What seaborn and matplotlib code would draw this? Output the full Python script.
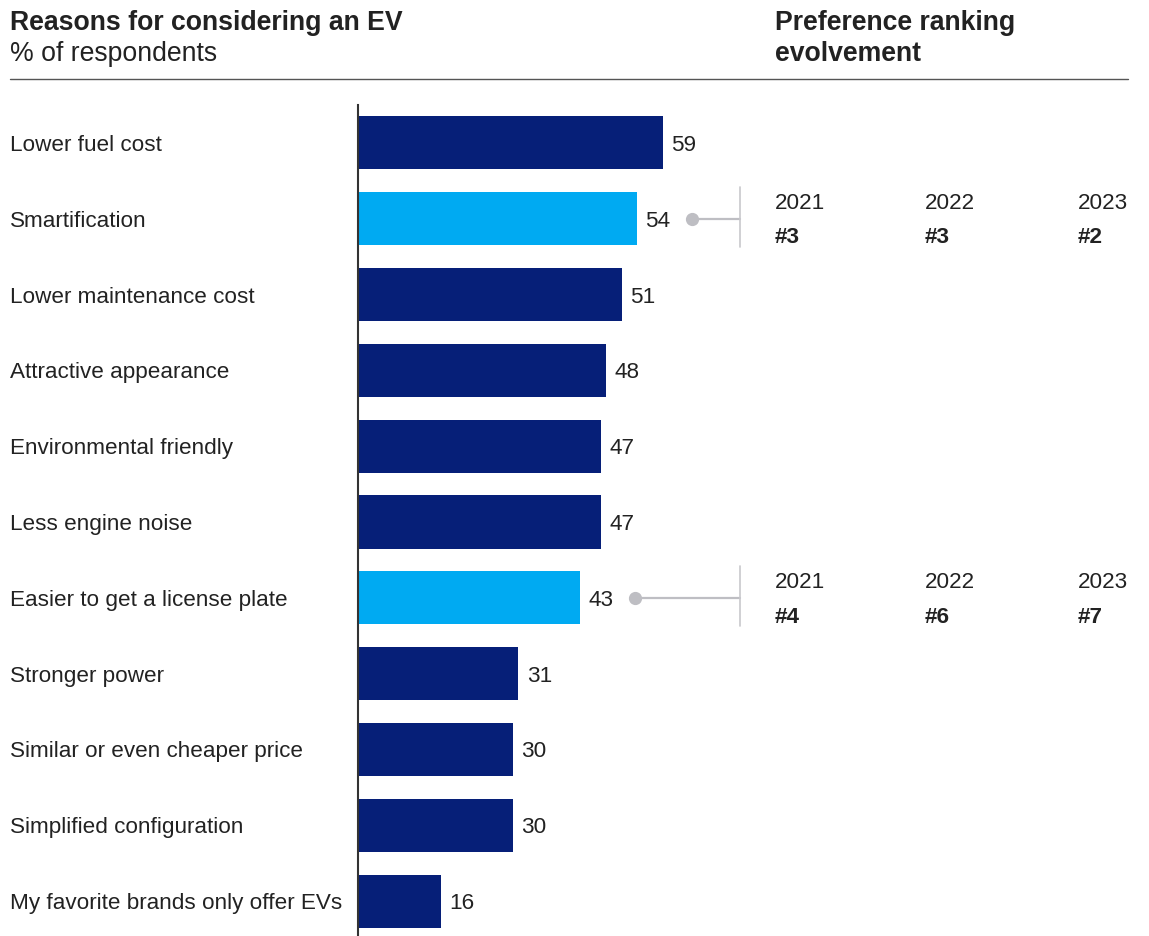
import matplotlib
matplotlib.use("Agg")
import matplotlib.pyplot as plt
import matplotlib.transforms as mtransforms
import seaborn as sns
import pandas as pd

# Survey data
reasons = [
    "Lower fuel cost",
    "Smartification",
    "Lower maintenance cost",
    "Attractive appearance",
    "Environmental friendly",
    "Less engine noise",
    "Easier to get a license plate",
    "Stronger power",
    "Similar or even cheaper price",
    "Simplified configuration",
    "My favorite brands only offer EVs",
]
share = [59, 54, 51, 48, 47, 47, 43, 31, 30, 30, 16]
highlighted = ["Smartification", "Easier to get a license plate"]

# Ranking history for the highlighted reasons
rank_years = ["2021", "2022", "2023"]
rank_history = {
    "Smartification": ["#3", "#3", "#2"],
    "Easier to get a license plate": ["#4", "#6", "#7"],
}

NAVY = "#061F78"
SKY = "#00AAF2"
TEXT = "#222222"
GREY = "#BEBEC3"

sns.set_theme(style="white")
plt.rcParams["font.family"] = ["Liberation Sans", "DejaVu Sans"]

W, H = 1149, 936
fig = plt.figure(figsize=(W / 100, H / 100), dpi=100)

# axes geometry in pixels
ax_left, ax_right, ax_top, ax_bottom = 358, 1128, 105, 936
ax = fig.add_axes([ax_left / W, 1 - ax_bottom / H,
                   (ax_right - ax_left) / W, (ax_bottom - ax_top) / H])

df = pd.DataFrame({
    "reason": reasons,
    "share": share,
    "group": ["hi" if r in highlighted else "base" for r in reasons],
})

sns.barplot(data=df, x="share", y="reason", hue="group",
            palette={"base": NAVY, "hi": SKY}, dodge=False,
            orient="h", width=0.70, legend=False, ax=ax, saturation=1,
            linewidth=0)

px_per_unit = 5.17
ax.set_xlim(0, (ax_right - ax_left) / px_per_unit)
ax.set_ylim(len(reasons) - 1 + 0.46, -0.5)

for c in ax.containers:
    anns = ax.bar_label(c, labels=[f"{v:g}" for v in c.datavalues],
                        padding=6, fontsize=16.2, color=TEXT)
    for a in anns:
        a.set_va("center_baseline")

ax.set_xlabel("")
ax.set_ylabel("")
ax.set_xticks([])
ax.set_yticks([])
for s in ["top", "right", "bottom"]:
    ax.spines[s].set_visible(False)
ax.spines["left"].set_color("#333333")
ax.spines["left"].set_linewidth(1.5)

# category labels, left aligned at figure edge
lab_tr = mtransforms.blended_transform_factory(fig.transFigure, ax.transData)
for i, r in enumerate(reasons):
    ax.text(10 / W, i, r, transform=lab_tr, ha="left", va="center_baseline",
            fontsize=16.2, color=TEXT, clip_on=False)

# ranking callouts
def px_to_data_x(px):
    return (px - ax_left) / px_per_unit

bracket_x = px_to_data_x(740)
year_x = [px_to_data_x(p) for p in (775, 925, 1078)]
for name, ranks in rank_history.items():
    i = reasons.index(name)
    v = share[i]
    dot_x = v + 55 / px_per_unit
    ax.plot([dot_x, bracket_x], [i, i], color=GREY, lw=1.6, zorder=2,
            clip_on=False)
    ax.plot([dot_x], [i], "o", color=GREY, ms=8.5, zorder=3, clip_on=False)
    ax.plot([bracket_x, bracket_x], [i - 0.42, i + 0.37], color="#C8C8CC",
            lw=1.2, clip_on=False)
    for yx, yr, rk in zip(year_x, rank_years, ranks):
        ax.text(yx, i - 0.24, yr, ha="left", va="center_baseline",
                fontsize=16.2, color=TEXT)
        ax.text(yx, i + 0.22, rk, ha="left", va="center_baseline",
                fontsize=16.2, fontweight="bold", color=TEXT)

# header
fig.text(10 / W, 1 - 30 / H, "Reasons for considering an EV", fontsize=19.2,
         fontweight="bold", color=TEXT, ha="left", va="baseline")
fig.text(10 / W, 1 - 61 / H, "% of respondents", fontsize=19.2,
         color=TEXT, ha="left", va="baseline")
fig.text(775 / W, 1 - 30 / H, "Preference ranking", fontsize=19.2,
         fontweight="bold", color=TEXT, ha="left", va="baseline")
fig.text(775 / W, 1 - 61 / H, "evolvement", fontsize=19.2,
         fontweight="bold", color=TEXT, ha="left", va="baseline")
fig.add_artist(plt.Line2D([10 / W, 1128 / W], [1 - 79 / H, 1 - 79 / H],
                          transform=fig.transFigure, color="#555555", lw=1))

fig.savefig("out.png", dpi=100)
